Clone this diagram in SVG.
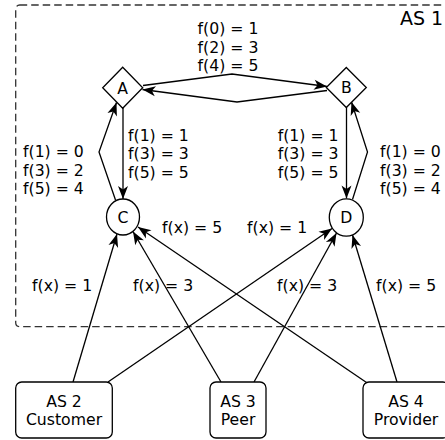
<svg xmlns="http://www.w3.org/2000/svg" width="445" height="440" viewBox="0 0 445 440">
<defs>
<marker id="arr" viewBox="-14 -6 15 12" markerWidth="15" markerHeight="12" refX="0" refY="0" orient="auto" markerUnits="userSpaceOnUse">
<path d="M0,0 L-13,-5 L-9.5,0 L-13,5 Z" fill="#000"/>
</marker>
</defs>
<style>
text{font-family:"DejaVu Sans","Liberation Sans",sans-serif;font-size:15.7px;fill:#000}
.n{fill:#fff;stroke:#000;stroke-width:1.3}
.e{fill:none;stroke:#000;stroke-width:1.3;marker-end:url(#arr)}
.m{text-anchor:middle}
.r{text-anchor:end}
</style>
<rect width="445" height="440" fill="#fff"/>
<g id="as1">
<rect x="15.7" y="5" width="460" height="321.7" rx="4" fill="none" stroke="#333" stroke-width="1.3" stroke-dasharray="7.5,4"/>
<text x="400" y="25" style="font-size:19px">AS 1</text>
</g>
<g id="connectors">
<polyline class="e" points="143,85.5 232,74 327,86.5"/>
<polyline class="e" points="327,90.5 237,102 142.5,89.5"/>
<line class="e" x1="123" y1="108" x2="123" y2="199"/>
<polyline class="e" points="115.5,200 99,152 116.5,102.5"/>
<line class="e" x1="346.5" y1="107" x2="346.5" y2="198.5"/>
<polyline class="e" points="352.5,199.5 367.5,152 351.5,102"/>
<line class="e" x1="73" y1="382" x2="117" y2="234"/>
<line class="e" x1="221" y1="382" x2="133" y2="231.5"/>
<line class="e" x1="366.5" y1="382.5" x2="138" y2="227"/>
<line class="e" x1="108" y1="382" x2="332" y2="228.5"/>
<line class="e" x1="254" y1="382" x2="336.5" y2="233"/>
<line class="e" x1="397" y1="382" x2="352.5" y2="235"/>
</g>
<g id="labels">
<text class="m" x="228" y="34">f(0) = 1</text>
<text class="m" x="228" y="52.5">f(2) = 3</text>
<text class="m" x="228" y="71">f(4) = 5</text>
<text x="128" y="141">f(1) = 1</text>
<text x="128" y="159.3">f(3) = 3</text>
<text x="128" y="177.5">f(5) = 5</text>
<text x="23" y="157.3">f(1) = 0</text>
<text x="23" y="175.6">f(3) = 2</text>
<text x="23" y="194">f(5) = 4</text>
<text class="r" x="338.5" y="141">f(1) = 1</text>
<text class="r" x="338.5" y="159.3">f(3) = 3</text>
<text class="r" x="338.5" y="177.5">f(5) = 5</text>
<text x="380" y="157.3">f(1) = 0</text>
<text x="380" y="175.6">f(3) = 2</text>
<text x="380" y="194">f(5) = 4</text>
<text x="162" y="233">f(x) = 5</text>
<text x="247" y="233">f(x) = 1</text>
<text x="32" y="291">f(x) = 1</text>
<text x="133" y="291">f(x) = 3</text>
<text x="277" y="291">f(x) = 3</text>
<text x="376" y="291">f(x) = 5</text>
</g>
<g id="A">
<polygon class="n" points="122.7,67.3 142.7,87.8 122.7,108.3 102.7,87.8"/>
<text class="m" x="122.7" y="93.5">A</text>
</g>
<g id="B">
<polygon class="n" points="346.3,67.5 366.3,87.5 346.3,107.5 326.3,87.5"/>
<text class="m" x="346.3" y="93.2">B</text>
</g>
<g id="C">
<ellipse class="n" cx="123" cy="217" rx="16.5" ry="18"/>
<text class="m" x="123" y="222.8">C</text>
</g>
<g id="D">
<ellipse class="n" cx="346.3" cy="217.5" rx="17" ry="18.7"/>
<text class="m" x="346.3" y="223.3">D</text>
</g>
<g id="AS2">
<rect class="n" x="15.7" y="382" width="96.6" height="56" rx="6"/>
<text class="m" x="64" y="406.5">AS 2</text>
<text class="m" x="64" y="424.5">Customer</text>
</g>
<g id="AS3">
<rect class="n" x="210" y="382" width="56" height="56" rx="6"/>
<text class="m" x="238" y="406.5">AS 3</text>
<text class="m" x="238" y="424.5">Peer</text>
</g>
<g id="AS4">
<rect class="n" x="363" y="382" width="86" height="56" rx="6"/>
<text class="m" x="406" y="406.5">AS 4</text>
<text class="m" x="406" y="424.5">Provider</text>
</g>
</svg>
